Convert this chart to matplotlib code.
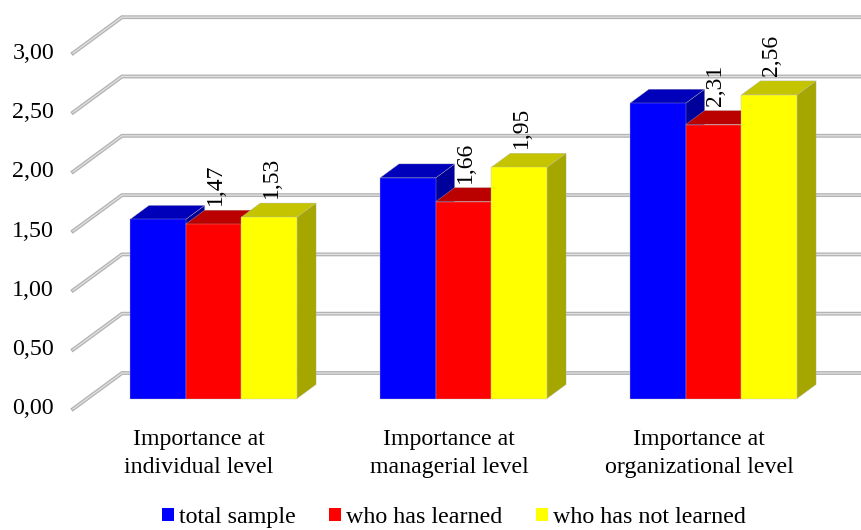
import matplotlib
matplotlib.use("Agg")
import matplotlib.pyplot as plt
from matplotlib.patches import Polygon, Patch

plt.rcParams['font.family'] = ['Liberation Serif', 'DejaVu Serif']

categories = ["Importance at\nindividual level", "Importance at\nmanagerial level", "Importance at\norganizational level"]
series_names = ["total sample", "who has learned", "who has not learned"]
total_sample = [1.51, 1.86, 2.49]
who_learned = [1.47, 1.66, 2.31]
who_not_learned = [1.53, 1.95, 2.56]
y_ticks = [0.0, 0.5, 1.0, 1.5, 2.0, 2.5, 3.0]

front_colors = ["#0000ff", "#ff0000", "#ffff00"]
top_colors = ["#0000bb", "#bb0000", "#c4c400"]
side_colors = ["#00009a", "#9a0000", "#a6a600"]

W, H = 861, 530
PX_X = 250.0      # pixels per category step
PX_Y = 118.6      # pixels per value unit
X0, Y0 = 213.5, 398.5
BAR_W = 55.7 / PX_X
DX, DY = 19 / PX_X, 14 / PX_Y                 # bar depth
WALL_X, WALL_Y = (122 - X0) / PX_X, (Y0 - 373) / PX_Y   # back wall origin
DIAG_X, DIAG_Y = 49 / PX_X, 36 / PX_Y         # floor/side wall depth
LABEL_GAP = 19 / PX_Y

fig = plt.figure(figsize=(W / 100, H / 100), dpi=100)
ax = fig.add_axes([0, 0, 1, 1])
ax.set_xlim(-X0 / PX_X, (W - X0) / PX_X)
ax.set_ylim((Y0 - H) / PX_Y, Y0 / PX_Y)
ax.axis("off")

# Back wall and side wall grid lines, doubled for the soft 3D edge
for t in y_ticks:
    y = t + WALL_Y
    xs_wall = [WALL_X - DIAG_X, WALL_X, (W + 5 - X0) / PX_X]
    ys_wall = [y - DIAG_Y, y, y]
    ax.plot(xs_wall, ys_wall, color="#b4b4b4", lw=2.8, zorder=1, solid_joinstyle="miter")
    ax.plot(xs_wall, ys_wall, color="#e2e2e2", lw=0.9, zorder=1.1, solid_joinstyle="miter")
    ax.text(WALL_X - DIAG_X - 19 / PX_X, y - DIAG_Y, f"{t:.2f}".replace(".", ","),
            ha="right", va="center", fontsize=17.3, color="black")

# Extruded bars, painted left to right so later bars overlap earlier sides
for g in range(len(categories)):
    for s, values in enumerate([total_sample, who_learned, who_not_learned]):
        v = values[g]
        left = g + (s - 1.5) * BAR_W
        right = left + BAR_W
        z = 3 + g + s * 0.1
        ax.add_patch(Polygon([(right, 0), (right + DX, DY), (right + DX, v + DY), (right, v)],
                             facecolor=side_colors[s], edgecolor="#b5b5b5", lw=0.25, zorder=z))
        ax.add_patch(Polygon([(left, v), (left + DX, v + DY), (right + DX, v + DY), (right, v)],
                             facecolor=top_colors[s], edgecolor="#b5b5b5", lw=0.25, zorder=z))
        ax.bar(left + BAR_W / 2, v, width=BAR_W, color=front_colors[s],
               edgecolor="#b5b5b5", linewidth=0.25, zorder=z + 0.01)

# Rotated value labels for the two subgroups
for s, values in [(1, who_learned), (2, who_not_learned)]:
    for g, v in enumerate(values):
        ax.text(g + (s - 1) * BAR_W + 2 / PX_X, v + LABEL_GAP, f"{v:.2f}".replace(".", ","),
                rotation=90, ha="center", va="bottom", fontsize=17, color="black", zorder=20)

# Category captions
for g, label in enumerate(categories):
    ax.text(g - 14.5 / PX_X, (Y0 - 453.5) / PX_Y, label, ha="center", va="center",
            fontsize=17.2, linespacing=1.4, color="black")

handles = [Patch(facecolor=c, edgecolor="none") for c in front_colors]
fig.legend(handles, series_names, loc="lower center", bbox_to_anchor=(454 / W, -0.028), ncol=3,
           frameon=False, fontsize=17.3, handlelength=0.5, handleheight=0.5,
           handletextpad=0.2, columnspacing=1.4, borderpad=0.2)

fig.savefig("out.png", dpi=100)
